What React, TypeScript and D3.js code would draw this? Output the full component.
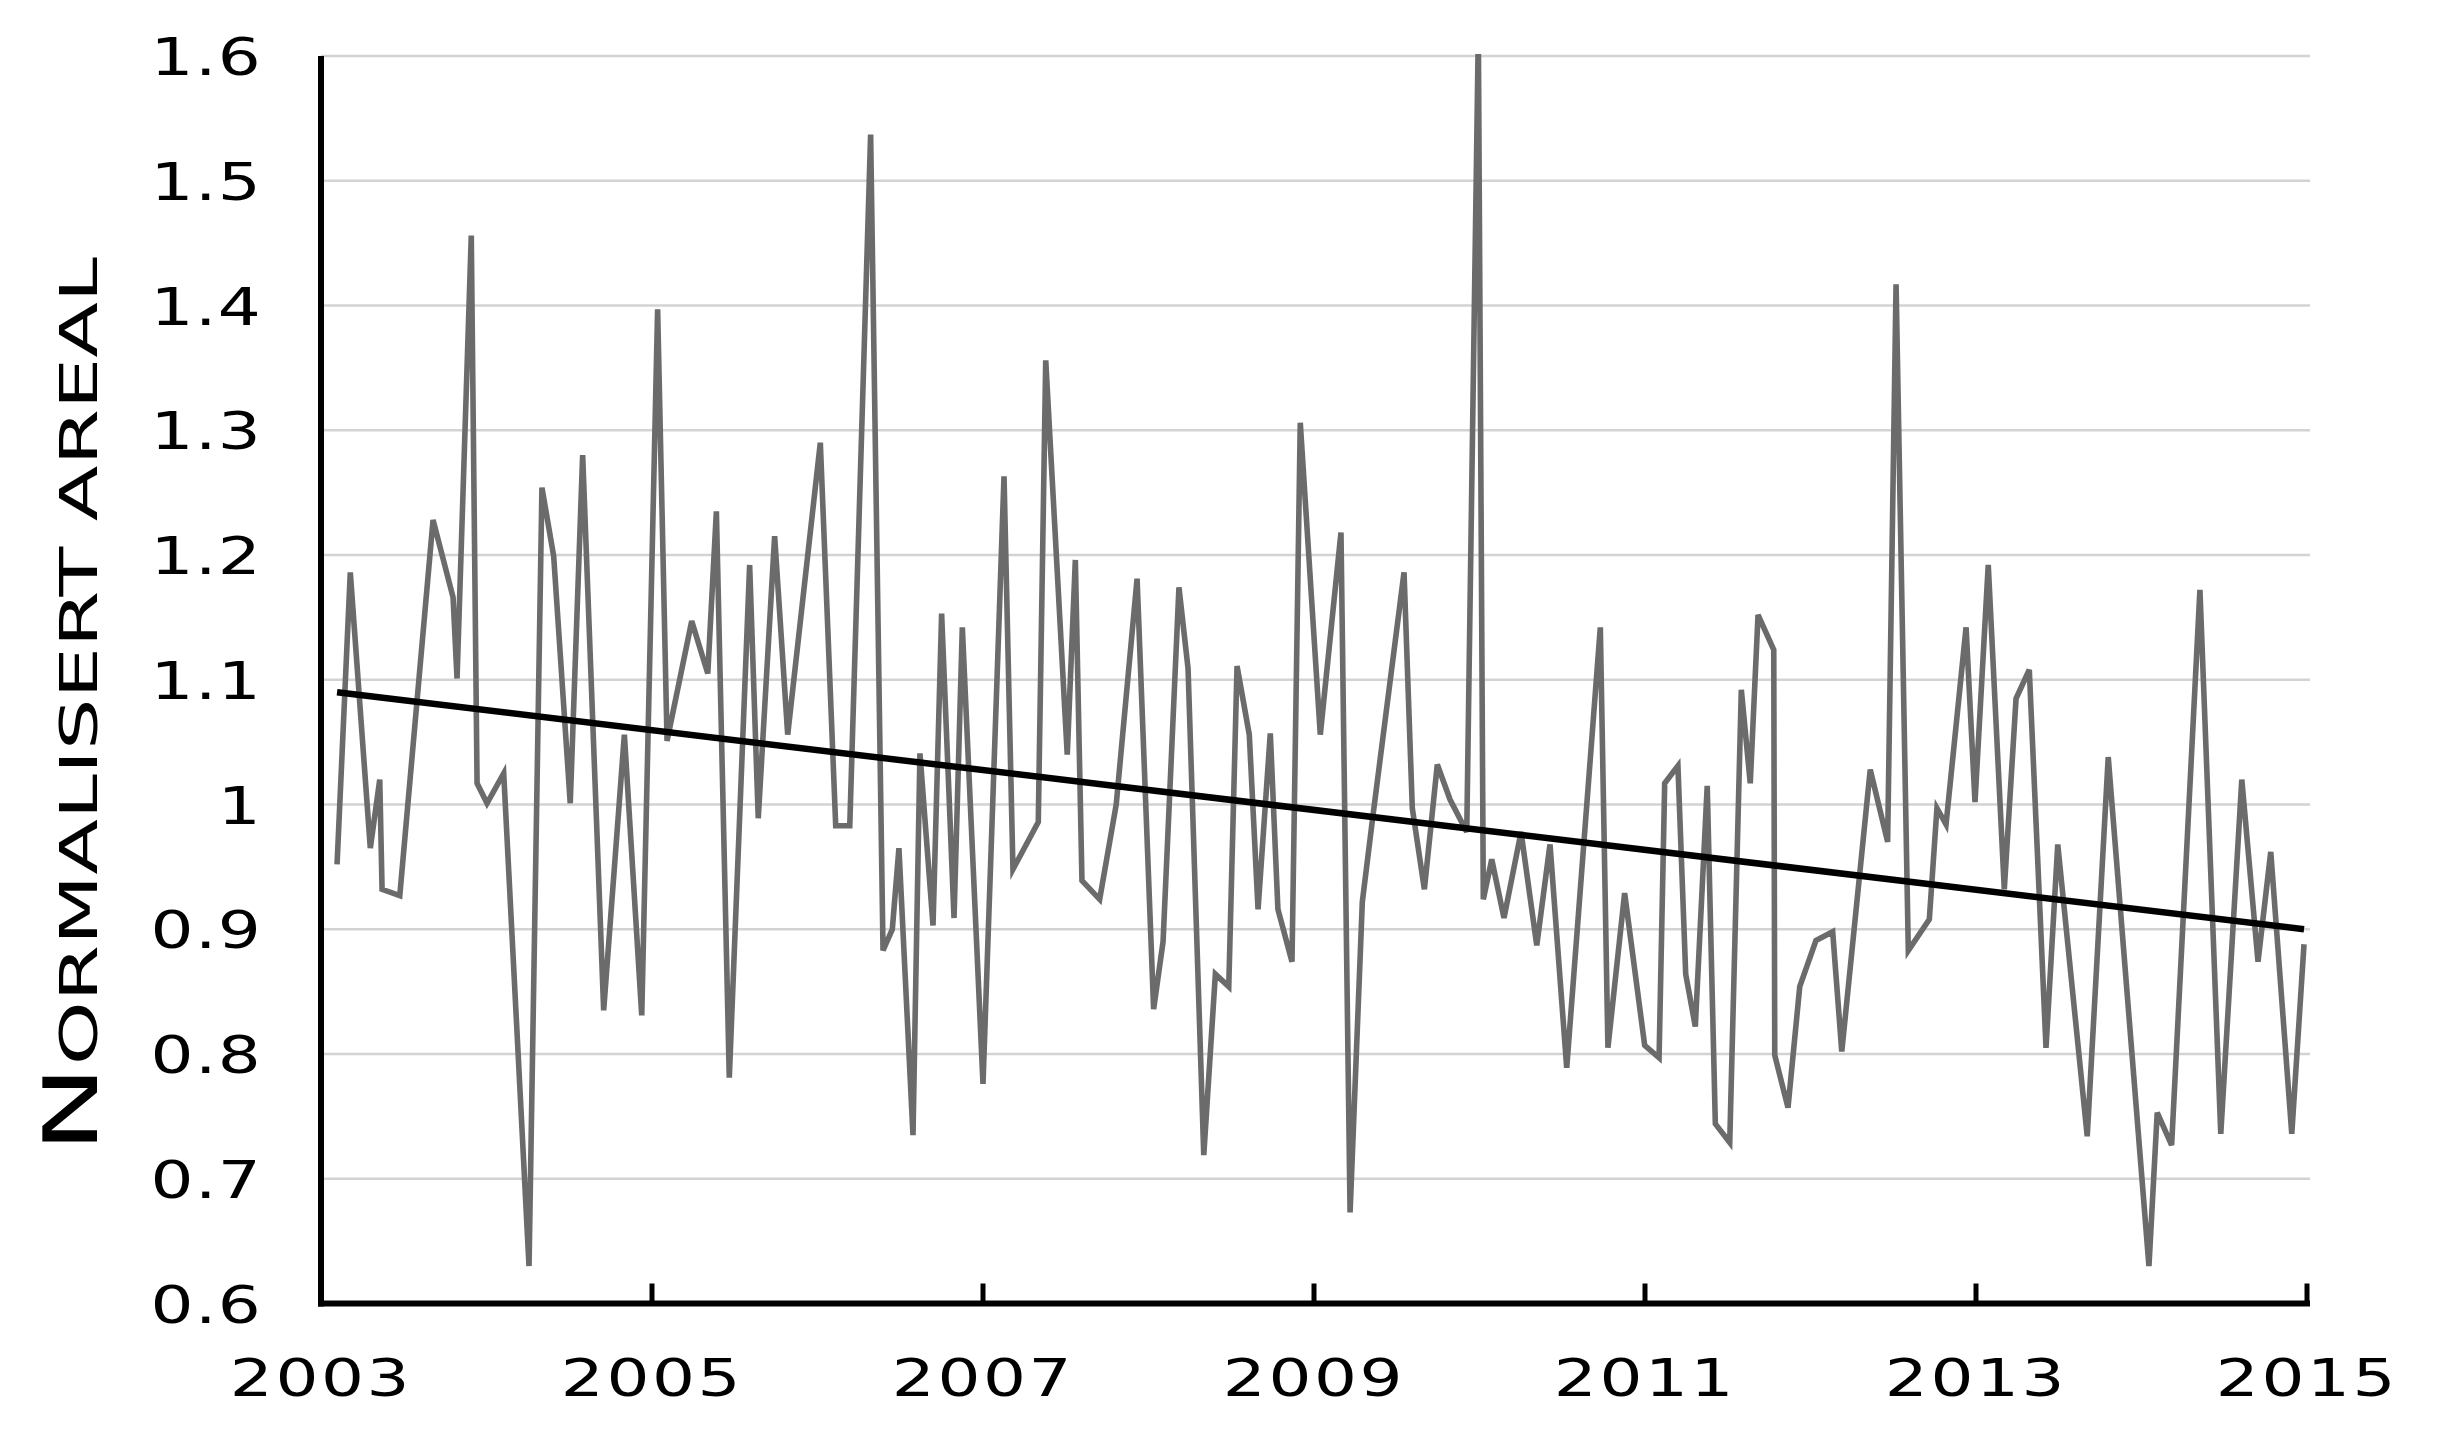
import React from "react";
import * as d3 from "d3";

const dates: number[] = [
  2003.097, 2003.177, 2003.298, 2003.355, 2003.369, 2003.476, 2003.677, 2003.798, 2003.822, 2003.908,
  2003.943, 2004.003, 2004.104, 2004.257, 2004.335, 2004.406, 2004.506, 2004.581, 2004.708, 2004.833,
  2004.938, 2005.034, 2005.091, 2005.240, 2005.337, 2005.389, 2005.467, 2005.590, 2005.642, 2005.741,
  2005.820, 2006.017, 2006.110, 2006.195, 2006.321, 2006.396, 2006.452, 2006.492, 2006.577, 2006.619,
  2006.698, 2006.750, 2006.825, 2006.875, 2007.000, 2007.127, 2007.181, 2007.334, 2007.379, 2007.509,
  2007.558, 2007.598, 2007.705, 2007.805, 2007.931, 2008.031, 2008.088, 2008.184, 2008.239, 2008.334,
  2008.404, 2008.485, 2008.535, 2008.609, 2008.662, 2008.736, 2008.782, 2008.867, 2008.917, 2009.038,
  2009.163, 2009.218, 2009.292, 2009.358, 2009.544, 2009.594, 2009.667, 2009.745, 2009.822, 2009.923,
  2009.993, 2010.023, 2010.074, 2010.148, 2010.251, 2010.346, 2010.426, 2010.527, 2010.730, 2010.776,
  2010.877, 2010.998, 2011.085, 2011.119, 2011.199, 2011.246, 2011.304, 2011.376, 2011.425, 2011.512,
  2011.582, 2011.636, 2011.683, 2011.778, 2011.784, 2011.864, 2011.935, 2012.033, 2012.134, 2012.189,
  2012.361, 2012.466, 2012.517, 2012.591, 2012.718, 2012.764, 2012.819, 2012.940, 2012.994, 2013.074,
  2013.171, 2013.242, 2013.322, 2013.423, 2013.494, 2013.672, 2013.799, 2014.045, 2014.095, 2014.182,
  2014.353, 2014.479, 2014.606, 2014.704, 2014.781, 2014.908, 2014.982,
];
const values: number[] = [
  0.952, 1.186, 0.965, 1.020, 0.932, 0.927, 1.228, 1.166, 1.101, 1.456,
  1.017, 1.001, 1.025, 0.630, 1.254, 1.199, 1.001, 1.280, 0.835, 1.056,
  0.831, 1.397, 1.051, 1.147, 1.105, 1.235, 0.781, 1.192, 0.989, 1.215,
  1.056, 1.290, 0.983, 0.983, 1.537, 0.883, 0.900, 0.965, 0.735, 1.041,
  0.903, 1.153, 0.909, 1.142, 0.776, 1.263, 0.948, 0.986, 1.356, 1.040,
  1.196, 0.939, 0.924, 1.000, 1.181, 0.836, 0.890, 1.174, 1.109, 0.719,
  0.864, 0.854, 1.111, 1.056, 0.916, 1.057, 0.916, 0.874, 1.306, 1.056,
  1.218, 0.673, 0.922, 0.993, 1.186, 0.997, 0.932, 1.032, 1.004, 0.978,
  1.620, 0.924, 0.956, 0.909, 0.978, 0.887, 0.968, 0.789, 1.142, 0.805,
  0.929, 0.807, 0.797, 1.017, 1.031, 0.864, 0.822, 1.015, 0.744, 0.729,
  1.092, 1.017, 1.152, 1.124, 0.799, 0.757, 0.854, 0.891, 0.898, 0.802,
  1.028, 0.970, 1.417, 0.883, 0.908, 0.997, 0.984, 1.142, 1.002, 1.192,
  0.932, 1.085, 1.108, 0.805, 0.968, 0.734, 1.038, 0.630, 0.753, 0.727,
  1.172, 0.736, 1.020, 0.874, 0.962, 0.736, 0.888,
];

// Linear trend line end values
const trendValues: number[] = [1.090, 0.900];

const yTicks: number[] = [0.6, 0.7, 0.8, 0.9, 1.0, 1.1, 1.2, 1.3, 1.4, 1.5, 1.6];
const yTickLabels: string[] = ["0.6", "0.7", "0.8", "0.9", "1", "1.1", "1.2", "1.3", "1.4", "1.5", "1.6"];
const xTicks: number[] = [2003, 2005, 2007, 2009, 2011, 2013, 2015];
const xTickLabels: string[] = ["2003", "2005", "2007", "2009", "2011", "2013", "2015"];
const yTitleFirst = "N";
const yTitleRest = "ORMALISERT AREAL";

const W = 2442;
const H = 1438;
const FONT = "'DejaVu Sans', sans-serif";
const FS = 52;
const SX = 1.3;

export default function App() {
  const x = d3.scaleLinear().domain([2003, 2015]).range([321, 2307]);
  const y = d3.scaleLinear().domain([0.6, 1.6]).range([1303.5, 56]);

  const pts = dates.map((d, i) => [d, values[i]] as [number, number]);
  const line = d3
    .line<[number, number]>()
    .x((d) => x(d[0]))
    .y((d) => y(d[1]));

  const trendPts: [number, number][] = [
    [dates[0], trendValues[0]],
    [dates[dates.length - 1], trendValues[1]],
  ];

  return (
    <svg
      width={W}
      height={H}
      style={{ position: "absolute", left: 0, top: 0, background: "#fff" }}
      xmlns="http://www.w3.org/2000/svg"
    >
      <defs>
        <clipPath id="plotClip">
          <rect x={300} y={y(1.6) - 2} width={2050} height={y(0.6) - y(1.6) + 40} />
        </clipPath>
      </defs>
      <rect x={0} y={0} width={W} height={H} fill="#fff" />
      {/* gridlines */}
      {yTicks.slice(1).map((t) => (
        <line key={t} x1={321} x2={2310} y1={y(t)} y2={y(t)} stroke="#d3d3d3" strokeWidth={2.7} />
      ))}
      {/* data line */}
      <g clipPath="url(#plotClip)">
        <path
          d={line(pts) || ""}
          fill="none"
          stroke="#6b6b6b"
          strokeWidth={5.6}
          strokeLinejoin="miter"
          strokeMiterlimit={4}
        />
      </g>
      {/* trend */}
      <path d={line(trendPts) || ""} fill="none" stroke="#000" strokeWidth={6.5} />
      {/* axes */}
      <line x1={321} x2={321} y1={y(1.6)} y2={y(0.6) + 3} stroke="#000" strokeWidth={6} />
      <line x1={318} x2={x(2015) + 3} y1={y(0.6)} y2={y(0.6)} stroke="#000" strokeWidth={6} />
      {xTicks.slice(1).map((t) => (
        <line key={t} x1={x(t)} x2={x(t)} y1={y(0.6)} y2={y(0.6) - 20} stroke="#000" strokeWidth={5} />
      ))}
      {/* y tick labels */}
      {yTicks.map((t, i) => (
        <text
          key={t}
          transform={`translate(262,${y(t) + 19}) scale(${SX},1)`}
          textAnchor="end"
          fontFamily={FONT}
          fontSize={FS}
          letterSpacing={1}
          fill="#000"
        >
          {yTickLabels[i]}
        </text>
      ))}
      {/* x tick labels */}
      {xTicks.map((t, i) => (
        <text
          key={t}
          transform={`translate(${x(t)},${1396}) scale(${SX},1)`}
          textAnchor="middle"
          fontFamily={FONT}
          fontSize={FS}
          letterSpacing={2}
          fill="#000"
        >
          {xTickLabels[i]}
        </text>
      ))}
      {/* y title */}
      <text
        transform={`translate(97,705) rotate(-90)`}
        textAnchor="middle"
        fontFamily={FONT}
        fill="#000"
        textLength={896}
        lengthAdjust="spacingAndGlyphs"
      >
        <tspan fontSize={75}>{yTitleFirst}</tspan>
        <tspan fontSize={52}>{yTitleRest}</tspan>
      </text>
    </svg>
  );
}
